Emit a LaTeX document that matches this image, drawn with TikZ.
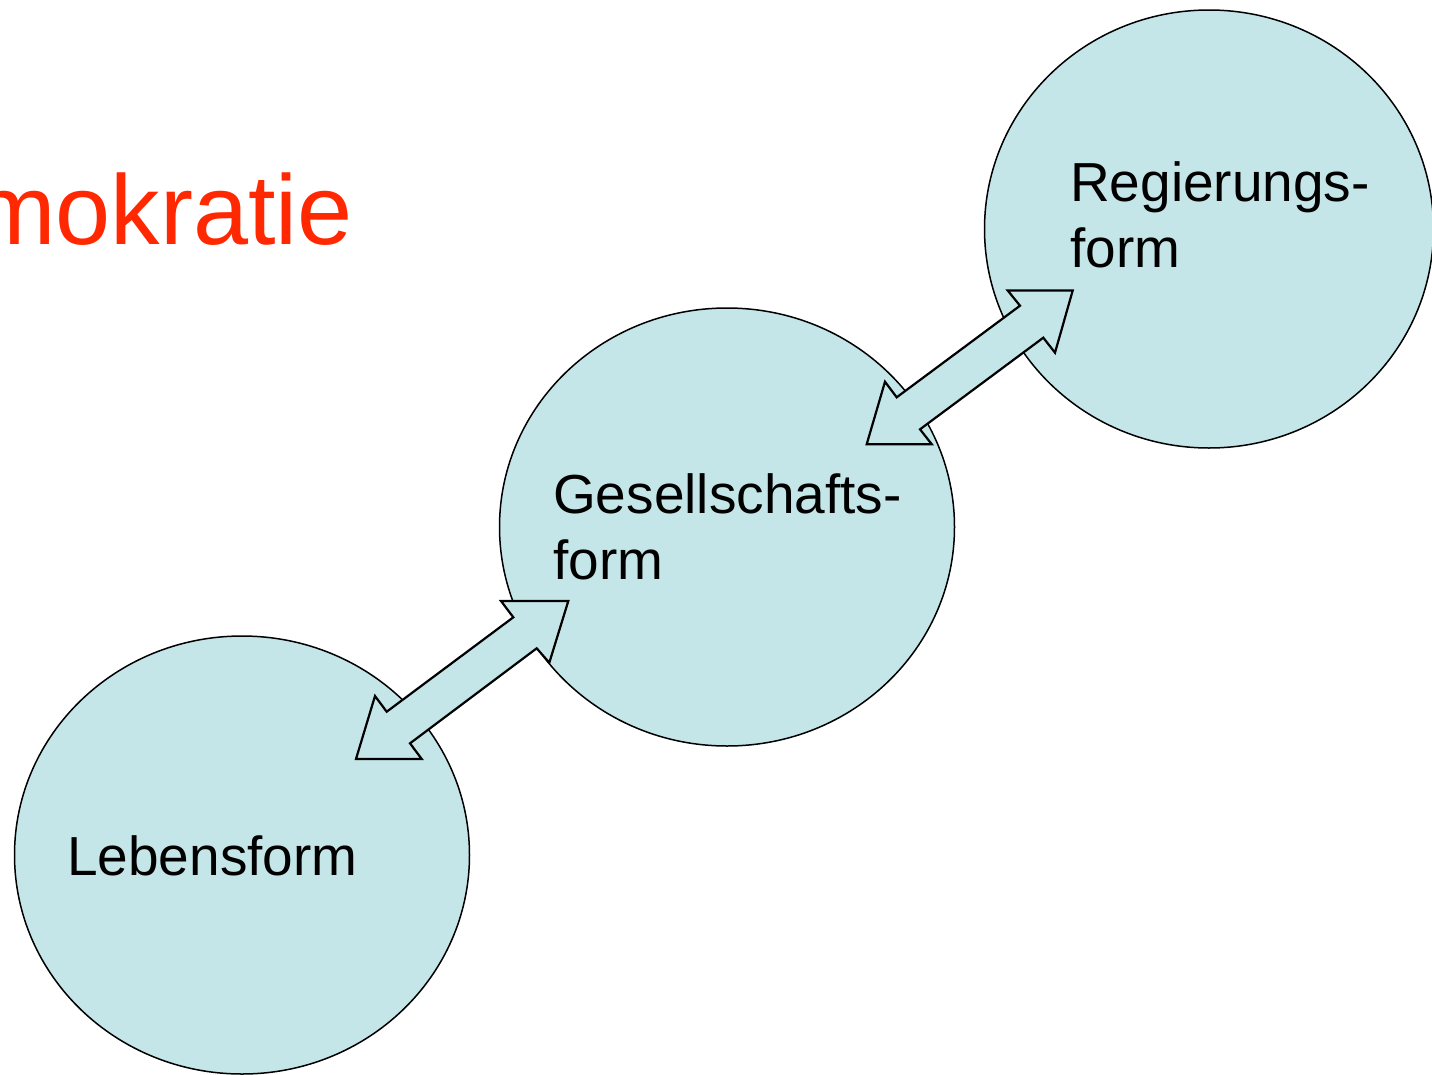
\documentclass[tikz,border=0pt]{standalone}
\usepackage{fontspec}
\setmainfont{Liberation Sans}
\usetikzlibrary{shapes.geometric}
\definecolor{bubble}{RGB}{196,230,232}
\definecolor{titlered}{RGB}{255,40,0}
\tikzset{
  bubblenode/.style={ellipse, draw=black, line width=1.5pt, fill=bubble, inner sep=0pt},
  blockarrow/.style={draw=black, line width=2.2pt, fill=bubble, line join=miter},
  lbl/.style={anchor=base west, inner sep=0pt, align=left, font=\fontsize{55}{66}\selectfont, text=black}
}
\begin{document}
\begin{tikzpicture}[x=1pt, y=-1pt]
\useasboundingbox (0,0) rectangle (1432,1074);
% title
\node[anchor=base east, inner sep=0pt, text=titlered, font=\fontsize{99}{110}\selectfont] (title) at (353,244) {mokratie};
% circles
\node[bubblenode, minimum width=449pt, minimum height=438pt] (reg) at (1209,229) {};
\node[bubblenode, minimum width=455pt, minimum height=438pt] (ges) at (727,527) {};
\node[bubblenode, minimum width=455pt, minimum height=438pt] (leb) at (242,855) {};
% block arrows
\draw[blockarrow] (501,601) -- (568.3,601) -- (549.3,662.7) -- (536.7,648.3) -- (410,743.3) -- (421.7,759) -- (356,759) -- (375,696) -- (386.7,711.7) -- (513.3,617.3) -- cycle;
\draw[blockarrow] (1007.7,290.5) -- (1072.7,290.5) -- (1055,352.7) -- (1043.3,337.7) -- (920,429.3) -- (931.7,444.2) -- (866.7,444.2) -- (885,381.7) -- (896.7,397.3) -- (1020,305.7) -- cycle;
% labels (base = baseline of the last line)
\node[lbl] (regt) at (1070,267) {Regierungs-\\form};
\node[lbl] (gest) at (553,579) {Gesellschafts-\\form};
\node[lbl] (lebt) at (67,875) {Lebensform};
\end{tikzpicture}
\end{document}
